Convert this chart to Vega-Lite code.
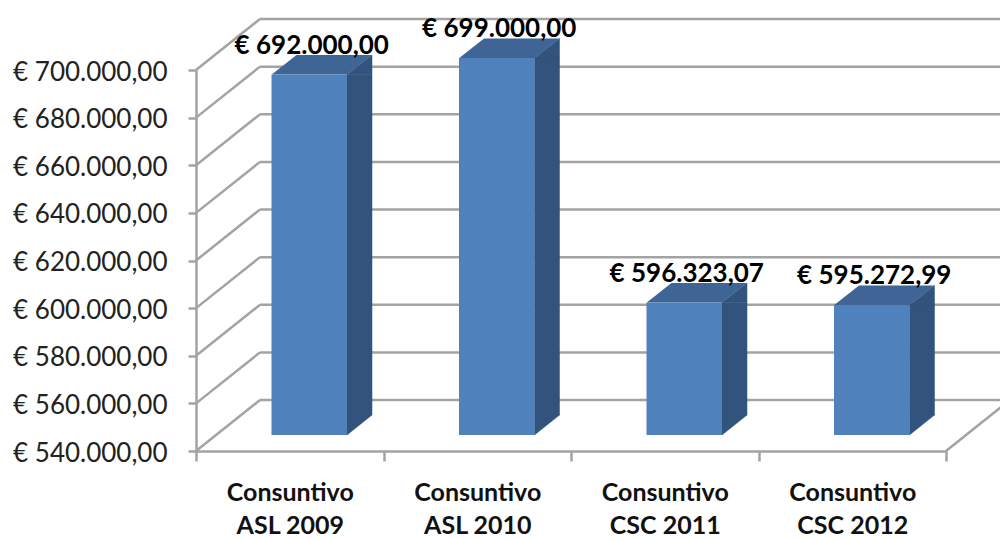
{
"$schema":"https://vega.github.io/schema/vega-lite/v6.json",
"width":750,"height":381,
"autosize":"none",
"padding":{"left":196,"top":70,"right":54,"bottom":88},
"background":"white",
"config":{"locale":{"number":{"decimal":",","thousands":".","grouping":[3],"currency":["€ ",""]}},"view":{"stroke":null}},
"datasets":{
"bars":[
{"voce":"Consuntivo ASL 2009","importo":692000},
{"voce":"Consuntivo ASL 2010","importo":699000},
{"voce":"Consuntivo CSC 2011","importo":596323.07},
{"voce":"Consuntivo CSC 2012","importo":595272.99}],
"ticks":[{"t":540000},{"t":560000},{"t":580000},{"t":600000},{"t":620000},{"t":640000},{"t":660000},{"t":680000},{"t":700000}],
"floor":[{"t":540000}]
},
"data":{"name":"bars"},
"encoding":{
"x":{"field":"voce","type":"nominal","sort":null,"scale":{"type":"band","paddingInner":0,"paddingOuter":0},
"axis":{"title":null,"labelAngle":0,"tickBand":"extent","domainColor":"#A3A3A3","domainWidth":2.5,"tickColor":"#A3A3A3","tickWidth":2.5,"tickSize":10,
"labelFont":"Lato","labelFontWeight":"bold","labelFontSize":25,"labelColor":"#111111","labelPadding":31,"labelLineHeight":33,"labelBaseline":"middle",
"labelExpr":"[slice(datum.label,0,10),slice(datum.label,11)]"}},
"y":{"field":"importo","type":"quantitative","scale":{"domain":[540000,700000],"nice":false,"zero":false},
"axis":{"title":null,"values":[540000,560000,580000,600000,620000,640000,660000,680000,700000],"format":"$,.2f","grid":false,"domainColor":"#A3A3A3","domainWidth":2.5,"tickColor":"#A3A3A3","tickWidth":2.5,"tickSize":8,
"labelFont":"Lato","labelFontSize":26,"labelColor":"#222222","labelPadding":21,"labelOffset":2}}
},
"layer":[
{"data":{"name":"ticks"},"mark":{"type":"rule","color":"#A3A3A3","strokeWidth":2.5,"xOffset":64,"x2Offset":64,"yOffset":-51},"encoding":{"x":{"value":0},"x2":{"value":750},"y":{"field":"t","type":"quantitative"}}},
{"data":{"name":"ticks"},"mark":{"type":"point","filled":false,"size":4,"shape":"M0,0L64,-51","stroke":"#A3A3A3","strokeWidth":2.5,"opacity":1},"encoding":{"x":{"value":0},"y":{"field":"t","type":"quantitative"}}},
{"data":{"name":"floor"},"mark":{"type":"point","filled":false,"size":4,"shape":"M0,0L64,-51","stroke":"#A3A3A3","strokeWidth":2.5,"opacity":1},"encoding":{"x":{"value":750},"y":{"field":"t","type":"quantitative"}}},
{"mark":{"type":"bar","size":25,"color":"#32547C","stroke":"#32547C","strokeWidth":0.5,"xOffset":69.75,"yOffset":-14.5,"y2Offset":-36},"encoding":{"y2":{"datum":540000}}},
{"mark":{"type":"point","filled":true,"size":4,"opacity":1,"shape":"M57.25,-14.5L82.25,-34L82.25,-14.5Z","color":"#32547C","stroke":"#32547C","strokeWidth":0.5}},
{"mark":{"type":"point","filled":true,"size":4,"opacity":1,"shape":"M57.25,-16L57.25,-36L82.25,-36Z","color":"#32547C","stroke":"#32547C","strokeWidth":0.5},"encoding":{"y":{"datum":540000}}},
{"mark":{"type":"point","filled":true,"size":4,"opacity":1,"shape":"M-18,-14.5L57.25,-14.5L82.25,-34L6.75,-34Z","color":"#3E6595"}},
{"mark":{"type":"bar","size":75.5,"color":"#4F81BD","xOffset":19.5,"yOffset":-14.5,"y2Offset":-16},"encoding":{"y2":{"datum":540000}}},
{"mark":{"type":"text","font":"Lato","fontWeight":"bold","fontSize":26,"color":"#000000","baseline":"middle","xOffset":22,"yOffset":-43},"encoding":{"text":{"field":"importo","type":"quantitative","format":"$,.2f"}}}
]
}
